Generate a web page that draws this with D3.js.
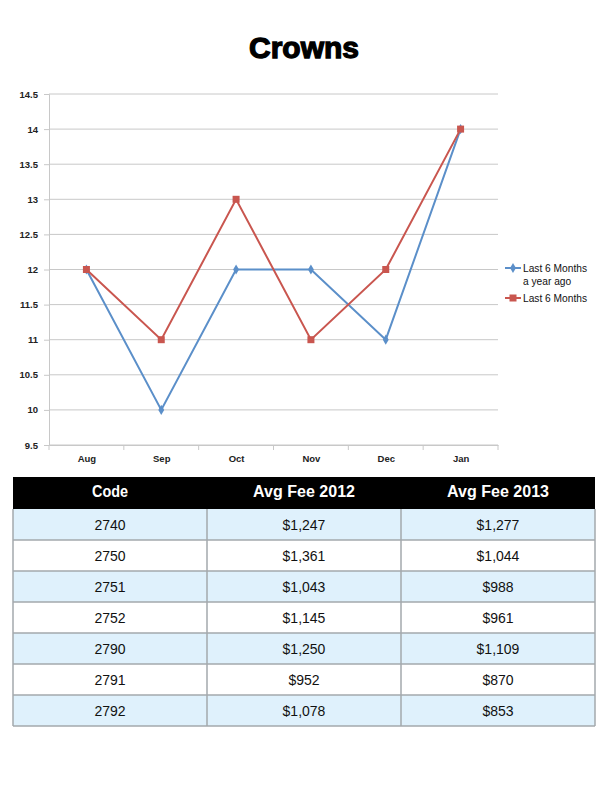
<!DOCTYPE html>
<html><head><meta charset="utf-8">
<script src="https://cdn.jsdelivr.net/npm/d3@7"></script>
<style>body{margin:0;background:#fff}svg{display:block}</style>
</head><body>
<svg id="c" width="612" height="792"></svg>
<script>
const months = ["Aug","Sep","Oct","Nov","Dec","Jan"];
const yearAgo = [12,10,12,12,11,14];
const last6 = [12,11,13,11,12,14];
const yTicks = [9.5,10,10.5,11,11.5,12,12.5,13,13.5,14,14.5];
const seriesNames = ["Last 6 Months|a year ago","Last 6 Months"];
const tableHeader = ["Code","Avg Fee 2012","Avg Fee 2013"];
const codes = ["2740","2750","2751","2752","2790","2791","2792"];
const fee2012 = ["$1,247","$1,361","$1,043","$1,145","$1,250","$952","$1,078"];
const fee2013 = ["$1,277","$1,044","$988","$961","$1,109","$870","$853"];

const svg = d3.select("#c");
const blue = "#5b8fc9", red = "#c9564f", grid = "#c8c8c8";

svg.append("text").attr("x",304).attr("y",58).attr("text-anchor","middle")
  .attr("font-family","Liberation Sans, Arial, sans-serif").attr("font-weight","bold")
  .attr("font-size",30).attr("stroke","#000").attr("stroke-width",1.3).text("Crowns");

const L=49,R=498,T=94,B=445;
const x = d3.scalePoint().domain(months).range([L,R]).padding(0.5);
const xb = d3.scaleBand().domain(months).range([L,R]);
const y = d3.scaleLinear().domain([9.5,14.5]).range([B,T]);

const g = svg.append("g");
g.selectAll("line.grid").data(yTicks).join("line").attr("class","grid")
  .attr("x1",L).attr("x2",R).attr("y1",d=>y(d)).attr("y2",d=>y(d))
  .attr("stroke",grid).attr("stroke-width",1);

const yAxis = g.append("g").attr("transform",`translate(${L},0)`)
  .call(d3.axisLeft(y).tickValues(yTicks).tickSize(5).tickPadding(6).tickFormat(d=>String(d)));
yAxis.select(".domain").attr("stroke",grid);
yAxis.selectAll(".tick line").attr("stroke",grid);
yAxis.selectAll(".tick text").attr("font-family","Liberation Sans, Arial, sans-serif")
  .attr("font-size",9.5).attr("font-weight","bold").attr("fill","#222");

const xAxis = g.append("g").attr("transform",`translate(0,${B})`)
  .call(d3.axisBottom(x).tickSize(0).tickPadding(10));
xAxis.select(".domain").attr("stroke",grid);
xAxis.selectAll(".tick text").attr("font-family","Liberation Sans, Arial, sans-serif")
  .attr("font-size",9.5).attr("font-weight","bold").attr("fill","#222");
const bounds = months.map(m=>xb(m)).concat([xb(months[months.length-1])+xb.bandwidth()]);
g.selectAll("line.xt").data(bounds).join("line").attr("class","xt")
  .attr("x1",d=>d).attr("x2",d=>d).attr("y1",B).attr("y2",B+5).attr("stroke",grid);

const line = d3.line().x((d,i)=>x(months[i])).y(d=>y(d));
g.append("path").datum(yearAgo).attr("d",line).attr("fill","none").attr("stroke",blue).attr("stroke-width",2);
g.append("path").datum(last6).attr("d",line).attr("fill","none").attr("stroke",red).attr("stroke-width",2);
g.selectAll("path.dm").data(yearAgo).join("path").attr("class","dm")
  .attr("d",d3.symbol(d3.symbolDiamond,30)())
  .attr("transform",(d,i)=>`translate(${x(months[i])},${y(d)})`).attr("fill",blue);
g.selectAll("rect.sq").data(last6).join("rect").attr("class","sq")
  .attr("x",(d,i)=>x(months[i])-3.5).attr("y",d=>y(d)-3.5).attr("width",7).attr("height",7).attr("fill",red);

// legend
const lg = svg.append("g").attr("font-family","Liberation Sans, Arial, sans-serif").attr("font-size",10.2).attr("fill","#111");
const ly = [268,298];
[blue,red].forEach((c,i)=>{
  lg.append("line").attr("x1",505).attr("x2",521).attr("y1",ly[i]).attr("y2",ly[i]).attr("stroke",c).attr("stroke-width",2);
  if(i===0) lg.append("path").attr("d",d3.symbol(d3.symbolDiamond,30)()).attr("transform",`translate(513,${ly[i]})`).attr("fill",c);
  else lg.append("rect").attr("x",509.5).attr("y",ly[i]-3.5).attr("width",7).attr("height",7).attr("fill",c);
  const parts = seriesNames[i].split("|");
  parts.forEach((p,j)=>lg.append("text").attr("x",523).attr("y",ly[i]+3.5+j*13).text(p));
});

// table
const colX = [13,207,401,595];
const hTop=477,hBot=509,rowH=31;
const headW = [36,102,102];
const tb = svg.append("g");
tb.append("rect").attr("x",colX[0]).attr("y",hTop).attr("width",colX[3]-colX[0]).attr("height",hBot-hTop).attr("fill","#000");
tb.selectAll("text.h").data(tableHeader).join("text").attr("class","h")
  .attr("x",(d,i)=>(colX[i]+colX[i+1])/2 - headW[i]/2).attr("y",hBot-12.5)
  .attr("font-family","Liberation Sans, Arial, sans-serif").attr("font-weight","bold")
  .attr("font-size",16).attr("textLength",(d,i)=>headW[i]).attr("lengthAdjust","spacingAndGlyphs")
  .attr("fill","#fff").text(d=>d);
const rows = codes.map((c,i)=>[c,fee2012[i],fee2013[i]]);
rows.forEach((r,i)=>{
  const ry = hBot + i*rowH;
  tb.append("rect").attr("x",colX[0]).attr("y",ry).attr("width",colX[3]-colX[0]).attr("height",rowH)
    .attr("fill", i%2===0 ? "#dff1fc" : "#fff");
  r.forEach((v,j)=>tb.append("text").attr("x",(colX[j]+colX[j+1])/2).attr("y",ry+rowH/2+5)
    .attr("text-anchor","middle").attr("font-family","Liberation Sans, Arial, sans-serif")
    .attr("font-size",14).attr("fill","#111").text(v));
});
const tBot = hBot + rows.length*rowH;
const bc = "#a3a8ad";
for(let i=1;i<=rows.length;i++){
  tb.append("line").attr("x1",colX[0]).attr("x2",colX[3]).attr("y1",hBot+i*rowH).attr("y2",hBot+i*rowH).attr("stroke",bc).attr("stroke-width",1.5);
}
colX.forEach(cx=>tb.append("line").attr("x1",cx).attr("x2",cx).attr("y1",hBot).attr("y2",tBot).attr("stroke",bc).attr("stroke-width",1.5));
</script>
</body></html>
